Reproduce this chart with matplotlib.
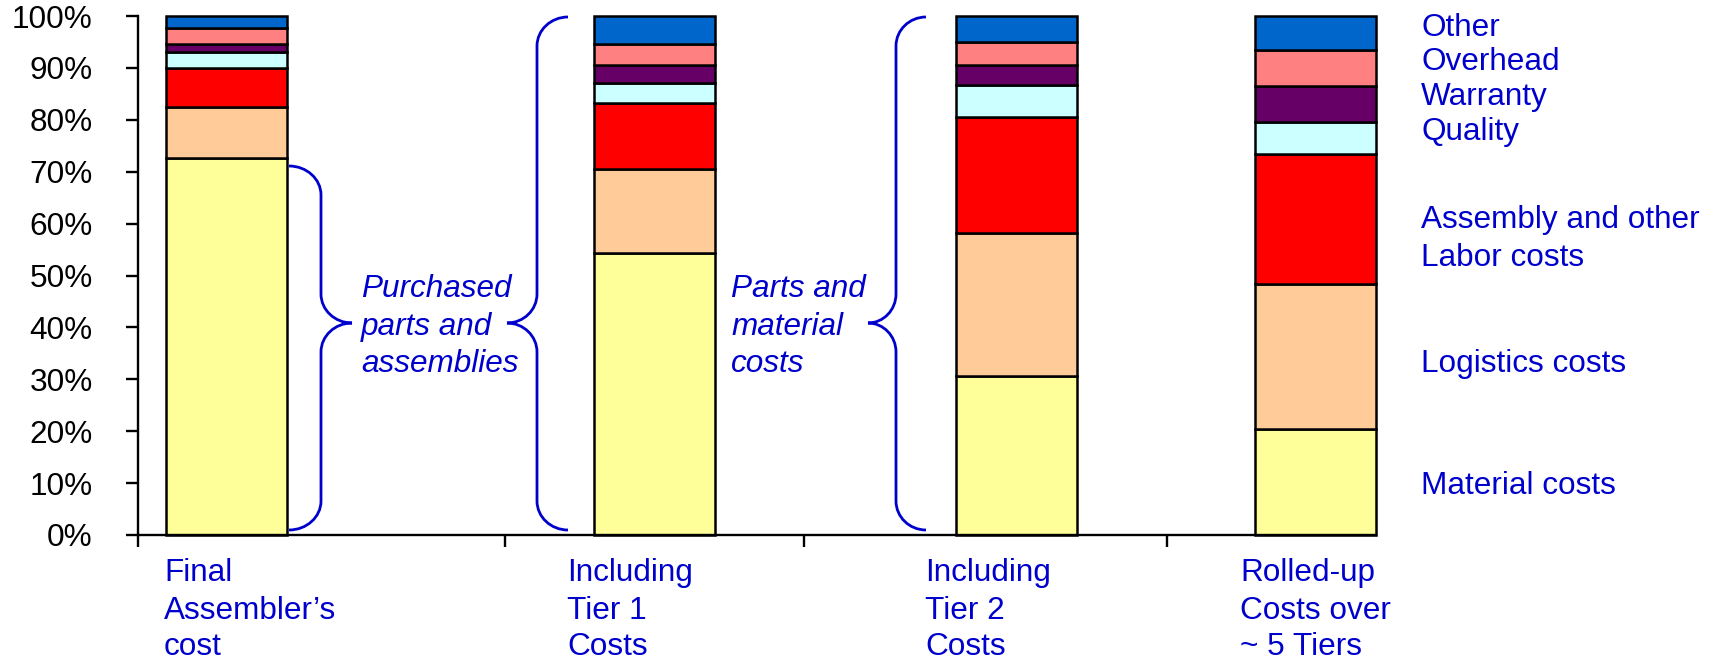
import matplotlib
matplotlib.use("Agg")
import matplotlib.pyplot as plt
from matplotlib.path import Path
from matplotlib.patches import PathPatch
import numpy as np

plt.rcParams['font.family'] = ['Liberation Sans', 'DejaVu Sans']

# ---- data -------------------------------------------------------------
stages = [
    ["Final", "Assembler’s", "cost"],
    ["Including", "Tier 1", "Costs"],
    ["Including", "Tier 2", "Costs"],
    ["Rolled-up", "Costs over", "~ 5 Tiers"],
]
cost_types = ["Material costs", "Logistics costs", "Assembly and other\nLabor costs",
              "Quality", "Warranty", "Overhead", "Other"]

material = [72.6, 54.4, 30.6, 20.4]
logistics = [9.8, 16.1, 27.5, 28.0]
assembly_labor = [7.6, 12.8, 22.5, 25.0]
quality = [3.0, 3.7, 6.1, 6.2]
warranty = [1.7, 3.5, 3.8, 7.0]
overhead = [2.9, 4.2, 4.4, 6.8]
other = [2.4, 5.3, 5.1, 6.6]

y_ticks = [0, 10, 20, 30, 40, 50, 60, 70, 80, 90, 100]
y_tick_labels = [f"{v}%" for v in y_ticks]

# ---- style ------------------------------------------------------------
colors = ["#FFFF99", "#FFCC99", "#FF0000", "#CCFFFF", "#660066", "#FF8080", "#0066CC"]
BLUE = "#0000CC"
FS = 22.7

W, H = 1717, 661
fig = plt.figure(figsize=(W / 100, H / 100), dpi=100)

# plot area in pixels
X0, X1 = 138, 1376
Y0, Y1 = 535, 16
ax = fig.add_axes([X0 / W, (H - Y0) / H, (X1 - X0) / W, (Y0 - Y1) / H])
ax.set_xlim(0, X1 - X0)
ax.set_ylim(0, 100)
PX_PER_PCT = (Y0 - Y1) / 100.0

# bars laid out along the horizontal axis (units: pixels from the y axis)
bar_left = [28, 456, 818, 1117]
bar_width = 120.5

series = [material, logistics, assembly_labor, quality, warranty, overhead, other]
bottom = np.zeros(len(material))
for vals, col in zip(series, colors):
    ax.bar(bar_left, vals, width=bar_width, bottom=bottom, align="edge",
           color=col, edgecolor="black", linewidth=1.8, clip_on=False, zorder=3)
    bottom += np.array(vals)

# axes styling
for s in ["top", "right"]:
    ax.spines[s].set_visible(False)
for s in ["left", "bottom"]:
    ax.spines[s].set_linewidth(1.7)
    ax.spines[s].set_zorder(4)
ax.set_yticks(y_ticks)
ax.set_yticklabels(y_tick_labels, fontsize=FS)
ax.set_xticks([0, 367, 666, 1029])
ax.set_xticklabels([])
ax.tick_params(axis="y", direction="out", length=8.5, width=1.7, pad=24)
ax.tick_params(axis="x", direction="out", length=8.5, width=1.7)


def brace(x_end, x_mid, x_tip, y_lo, y_hi, y_mid, ry_px):
    """Curly brace: vertical stem at x_mid, ends bending toward x_end, point at x_tip."""
    k = 0.5523
    ry = ry_px / PX_PER_PCT
    verts = [
        (x_end, y_hi),
        (x_end + k * (x_mid - x_end), y_hi), (x_mid, y_hi - (1 - k) * ry), (x_mid, y_hi - ry),
        (x_mid, y_mid + ry),
        (x_mid, y_mid + (1 - k) * ry), (x_tip - k * (x_tip - x_mid), y_mid), (x_tip, y_mid),
        (x_tip - k * (x_tip - x_mid), y_mid), (x_mid, y_mid - (1 - k) * ry), (x_mid, y_mid - ry),
        (x_mid, y_lo + ry),
        (x_mid, y_lo + (1 - k) * ry), (x_end + k * (x_mid - x_end), y_lo), (x_end, y_lo),
    ]
    codes = ([Path.MOVETO] + [Path.CURVE4] * 3 + [Path.LINETO] + [Path.CURVE4] * 6
             + [Path.LINETO] + [Path.CURVE4] * 3)
    ax.add_patch(PathPatch(Path(verts, codes), facecolor="none", edgecolor=BLUE,
                           linewidth=2.0, clip_on=False, zorder=5))


def pct(py):
    return (Y0 - py) / PX_PER_PCT


brace(289 - X0, 321 - X0, 352 - X0, pct(530), pct(166), pct(323), 29)
brace(568 - X0, 537 - X0, 507 - X0, pct(530), pct(17), pct(323), 29)
brace(926 - X0, 896 - X0, 868 - X0, pct(530), pct(17), pct(323), 29)


def lines_at(x_px, baselines_px, lines, **kw):
    for yb, t in zip(baselines_px, lines):
        fig.text(x_px / W, 1 - yb / H, t, fontsize=FS, color=BLUE, va="baseline", ha="left", **kw)


# bracket captions
lines_at(361, [297, 335, 372], ["Purchased", "parts and", "assemblies"], style="italic")
lines_at(731, [297, 335, 372], ["Parts and", "material", "costs"], style="italic")

# stage labels under the bars
for x_px, lab in zip([164, 567, 925, 1240], stages):
    lines_at(x_px, [581, 619, 655], lab)

# cost-type labels on the right
label_base = [494, 372, 228, 140, 105, 70, 36]
for yb, name in zip(label_base, cost_types):
    parts = name.split("\n")
    lines_at(1421, [yb + 38 * i for i in range(len(parts))], parts)

fig.savefig("out.png", dpi=100)
